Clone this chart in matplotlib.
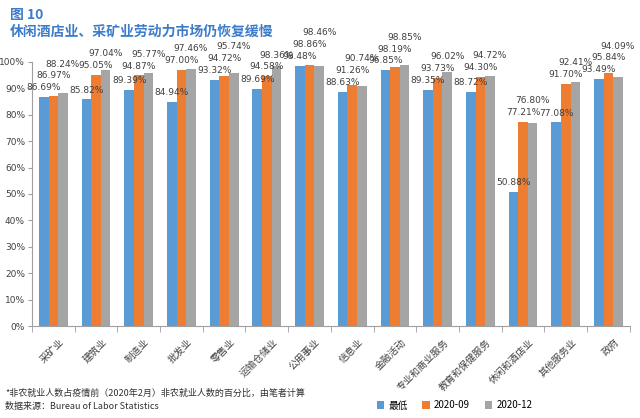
import numpy as np
import matplotlib.pyplot as plt
import matplotlib.transforms as mtransforms

plt.rcParams['font.family'] = ['Noto Sans CJK SC', 'DejaVu Sans']

# 行业及三个时点的就业恢复比例（%）
categories = ['采矿业', '建筑业', '制造业', '批发业', '零售业', '运输仓储业', '公用事业',
              '信息业', '金融活动', '专业和商业服务', '教育和保健服务', '休闲和酒店业',
              '其他服务业', '政府']
lowest = [86.69, 85.82, 89.39, 84.94, 93.32, 89.69, 98.48,
          88.63, 96.85, 89.35, 88.72, 50.88, 77.08, 93.49]
sep2020 = [86.97, 95.05, 94.87, 97.00, 94.72, 94.58, 98.86,
           91.26, 98.19, 93.73, 94.30, 77.21, 91.70, 95.84]
dec2020 = [88.24, 97.04, 95.77, 97.46, 95.74, 98.36, 98.46,
           90.74, 98.85, 96.02, 94.72, 76.80, 92.41, 94.09]
series_names = ['最低', '2020-09', '2020-12']
colors = ['#5B9BD5', '#ED7D31', '#A5A5A5']

fig = plt.figure(figsize=(6.4, 4.18), dpi=100)
ax = fig.add_axes([0.05, 0.22, 0.934, 0.632])

x = np.arange(len(categories))
w = 0.225
series = [lowest, sep2020, dec2020]
for i, vals in enumerate(series):
    ax.bar(x + (i - 1) * w, vals, width=w, color=colors[i], label=series_names[i])

# 数据标签：逐级上移，避免重叠（仿原图手动摆放）
for j in range(len(categories)):
    prev = -10
    for i, vals in enumerate(series):
        y = max(vals[j] + 3.5, prev + 4.5)
        prev = y
        ax.text(x[j] + (i - 1) * w, y, f'{vals[j]:.2f}%', ha='center', va='center',
                fontsize=6.5, color='#404040', family='DejaVu Sans', clip_on=False)

ax.set_xlim(-0.5, len(categories) - 0.5)
ax.set_ylim(0, 100)
ax.set_yticks(np.arange(0, 101, 10))
ax.set_yticklabels([f'{v}%' for v in range(0, 101, 10)], fontsize=6.5, color='#404040',
                   family='DejaVu Sans')
ax.tick_params(axis='y', length=3, pad=2, color='#A0A0A0')
ax.set_xticks(x)
ax.set_xticklabels(categories, rotation=45, ha='right', rotation_mode='anchor',
                   fontsize=7, color='#404040')
ax.tick_params(axis='x', length=0, pad=8)
shift = mtransforms.ScaledTranslation(4 / 72, 0, fig.dpi_scale_trans)
for lbl in ax.get_xticklabels():
    lbl.set_transform(lbl.get_transform() + shift)
ax.set_xticks(np.arange(-0.5, len(categories)), minor=True)
ax.tick_params(axis='x', which='minor', length=4, color='#A0A0A0')
for s in ['top', 'right']:
    ax.spines[s].set_visible(False)
for s in ['left', 'bottom']:
    ax.spines[s].set_color('#A0A0A0')
    ax.spines[s].set_linewidth(0.8)

fig.text(0.016, 0.965, '图 10', fontsize=10, fontweight='bold', color='#3D7CC9', va='center')
fig.text(0.016, 0.925, '休闲酒店业、采矿业劳动力市场仍恢复缓慢', fontsize=10,
         fontweight='bold', color='#3D7CC9', va='center')
fig.text(0.008, 0.058, '*非农就业人数占疫情前（2020年2月）非农就业人数的百分比，由笔者计算',
         fontsize=6.5, color='#303030', va='center')
fig.text(0.008, 0.027, '数据来源：Bureau of Labor Statistics', fontsize=6.5,
         color='#303030', va='center')

fig.legend(loc='center', bbox_to_anchor=(0.71, 0.03), ncol=3, frameon=False, fontsize=7,
           handlelength=0.8, handleheight=0.8, columnspacing=1.5, handletextpad=0.4)

fig.savefig('out.png', dpi=100)
